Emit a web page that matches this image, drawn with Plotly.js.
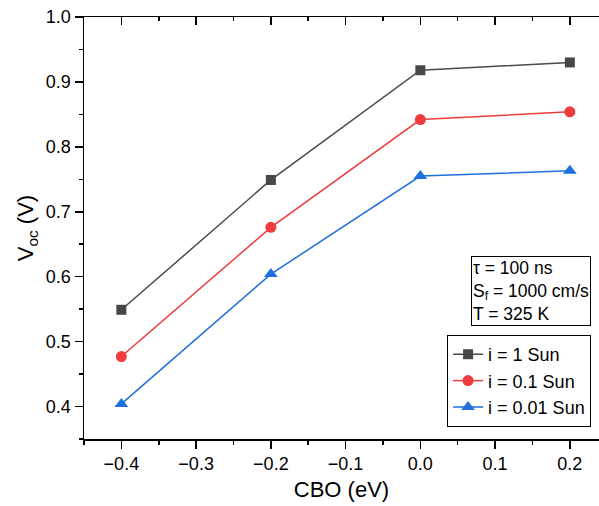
<!DOCTYPE html>
<html>
<head>
<meta charset="utf-8">
<script src="https://cdn.plot.ly/plotly-3.0.1.min.js"></script>
<style>html,body{margin:0;padding:0;background:#fff;}#chart{width:599px;height:506px;}</style>
</head>
<body>
<div id="chart"></div>
<script>
var cbo = [-0.4, -0.2, 0.0, 0.2];
var voc1Sun = [0.549, 0.749, 0.918, 0.930];
var voc01Sun = [0.477, 0.676, 0.842, 0.854];
var voc001Sun = [0.404, 0.604, 0.755, 0.763];
var seriesNames = ['i = 1 Sun', 'i = 0.1 Sun', 'i = 0.01 Sun'];

var font = 'Liberation Sans, Arial, sans-serif';
var traces = [
  {x: cbo, y: voc1Sun, name: seriesNames[0], mode: 'lines+markers',
   line: {color: '#4a4a4a', width: 1.5}, marker: {symbol: 'square', size: 10, color: '#474747'}},
  {x: cbo, y: voc01Sun, name: seriesNames[1], mode: 'lines+markers',
   line: {color: '#ee3b3b', width: 1.5}, marker: {symbol: 'circle', size: 11, color: '#ee3b3b'}},
  {x: cbo, y: voc001Sun, name: seriesNames[2], mode: 'lines+markers',
   line: {color: '#1f6fdc', width: 1.5}, marker: {symbol: 'triangle-up', size: 12, color: '#1f6fdc'}},
  {x: cbo, y: voc1Sun, xaxis: 'x2', mode: 'markers', showlegend: false, hoverinfo: 'skip',
   marker: {opacity: 0}}
];

var layout = {
  width: 599, height: 506,
  margin: {l: 84, r: 0, t: 17, b: 67},
  paper_bgcolor: '#fff', plot_bgcolor: '#fff',
  font: {family: font, size: 18, color: '#000'},
  showlegend: true,
  xaxis: {
    range: [-0.45, 0.239], tick0: 0, dtick: 0.1, tickformat: '.1f',
    showgrid: false, zeroline: false, showline: true, linecolor: '#000', linewidth: 1.5,
    ticks: 'outside', ticklen: 8, tickwidth: 1.5, tickcolor: '#000',
    minor: {dtick: 0.05, ticks: 'outside', ticklen: 4, tickwidth: 1.5, tickcolor: '#000'},
    tickfont: {size: 18},
    title: {text: 'CBO (eV)', font: {size: 22}, standoff: 8}
  },
  xaxis2: {
    overlaying: 'x', side: 'top', matches: 'x', anchor: 'y',
    range: [-0.45, 0.239], tick0: 0, dtick: 0.1,
    showgrid: false, zeroline: false, showline: true, linecolor: '#000', linewidth: 1.5,
    ticks: 'inside', ticklen: 8, tickwidth: 1.5, tickcolor: '#000',
    minor: {dtick: 0.05, ticks: 'inside', ticklen: 4, tickwidth: 1.5, tickcolor: '#000'},
    showticklabels: false
  },
  yaxis: {
    range: [0.35, 1.0], tick0: 0, dtick: 0.1, tickformat: '.1f',
    showgrid: false, zeroline: false, showline: true, linecolor: '#000', linewidth: 1.5,
    ticks: 'outside', ticklen: 8, tickwidth: 1.5, tickcolor: '#000',
    minor: {dtick: 0.05, ticks: 'outside', ticklen: 4, tickwidth: 1.5, tickcolor: '#000'},
    tickfont: {size: 18},
    title: {text: 'V<sub>oc</sub> (V)', font: {size: 22}, standoff: 6}
  },
  legend: {
    x: 0.705, y: 0.2464, xanchor: 'left', yanchor: 'top',
    bgcolor: '#fff', bordercolor: '#000', borderwidth: 1,
    font: {family: font, size: 18}, tracegroupgap: 0, itemwidth: 30
  },
  annotations: [{
    xref: 'paper', yref: 'paper', x: 0.751, y: 0.4336, xanchor: 'left', yanchor: 'top',
    text: 'τ = 100 ns<br>S<sub>f</sub> = 1000 cm/s<br>T = 325 K',
    align: 'left', showarrow: false, bordercolor: '#000', borderwidth: 1, borderpad: 1,
    bgcolor: '#fff', font: {family: font, size: 17.5}
  }]
};

Plotly.newPlot('chart', traces, layout, {displayModeBar: false, staticPlot: true});
</script>
</body>
</html>
